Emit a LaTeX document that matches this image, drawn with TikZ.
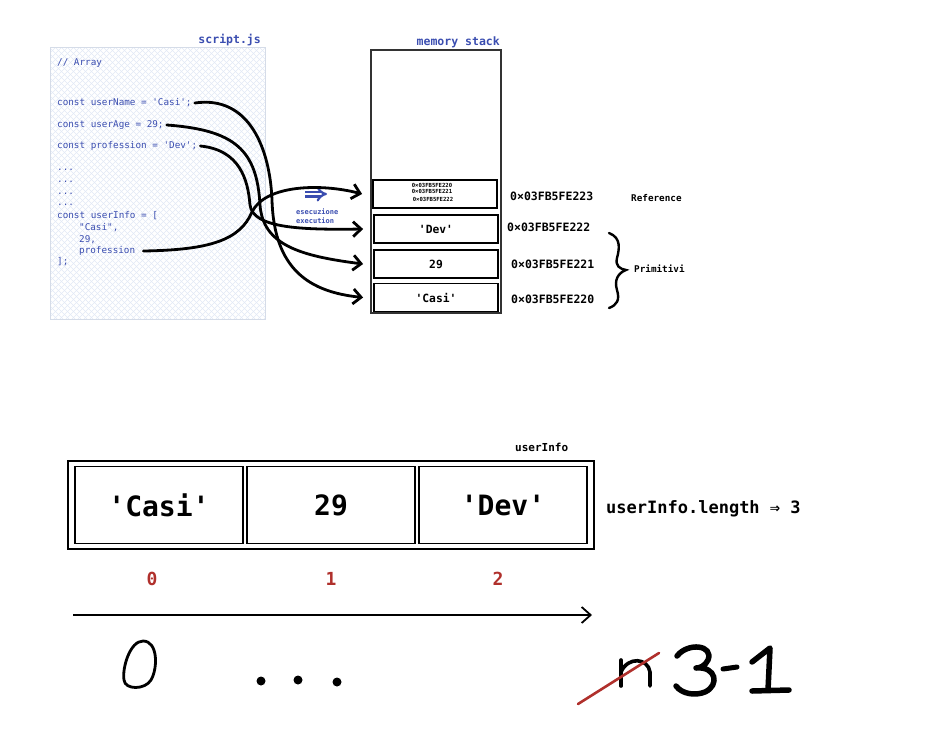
\documentclass[tikz,border=0pt]{standalone}
\usepackage{fontspec}
\setmonofont{DejaVu Sans Mono}
\usetikzlibrary{arrows.meta}
\definecolor{codeblue}{HTML}{3A4DB0}
\definecolor{idxred}{HTML}{B0302C}
\definecolor{hatch}{HTML}{E2E9F6}
\definecolor{panelborder}{HTML}{D5DCE8}
\tikzset{
  codeline/.style={anchor=west,inner sep=0pt,font=\ttfamily\fontsize{9.3}{11}\selectfont,text=codeblue},
  titlelbl/.style={anchor=east,inner sep=0pt,font=\ttfamily\bfseries\fontsize{11.5}{13}\selectfont,text=codeblue},
  membox/.style={draw,line width=1.8pt,minimum width=124,minimum height=28,inner sep=0pt,font=\ttfamily\bfseries\fontsize{11.3}{13}\selectfont},
  addr/.style={anchor=west,inner sep=0pt,font=\ttfamily\bfseries\fontsize{11.5}{13}\selectfont},
  small/.style={anchor=west,inner sep=0pt,font=\ttfamily\bfseries\fontsize{9.3}{11}\selectfont},
  arrbox/.style={draw,line width=1.8pt,minimum width=168,minimum height=77,inner sep=0pt,font=\ttfamily\bfseries\fontsize{28}{32}\selectfont},
  idx/.style={inner sep=0pt,font=\ttfamily\bfseries\fontsize{18}{20}\selectfont,text=idxred},
  handarrow/.style={line width=2.8pt,line cap=round,-{Straight Barb[length=8pt,width=15pt,line width=2.8pt]}},
  hand/.style={line width=3.2pt,line cap=round,line join=round},
}
\begin{document}
\begin{tikzpicture}[x=1pt,y=-1pt]
\useasboundingbox (0,0) rectangle (925,752);
% script panel
\begin{scope}
\clip (50,48) rectangle (265,319);
\fill[white] (50,48) rectangle (265,319);
\foreach \i in {-300,-294,...,300}{
  \draw[hatch,line width=0.45pt] (50+\i,48) -- ++(280,280);
  \draw[hatch,line width=0.45pt] (265-\i,48) -- ++(-280,280);
}
\end{scope}
\draw[panelborder,line width=1pt] (50,48) rectangle (265,319);
\node[titlelbl] (scriptlbl) at (261,40) {script.js};
\node[codeline] (c0) at (57,63) {// Array};
\node[codeline] (cname) at (57,103) {const userName = 'Casi';};
\node[codeline] (cage) at (57,125) {const userAge = 29;};
\node[codeline] (cprof) at (57,146) {const profession = 'Dev';};
\node[codeline] (d1) at (57,170) {...};
\node[codeline] (d2) at (57,182) {...};
\node[codeline] (d3) at (57,194) {...};
\node[codeline] (d4) at (57,205) {...};
\node[codeline] (cinfo) at (57,216) {const userInfo = [};
\node[codeline] (ci1) at (79,228) {"Casi",};
\node[codeline] (ci2) at (79,240) {29,};
\node[codeline] (ci3) at (79,251) {profession};
\node[codeline] (ci4) at (57,262) {];};
% memory stack
\node[titlelbl] (memlbl) at (500,42) {memory stack};
\draw[line width=1.1pt,black!80] (371,50) rectangle (501,313);
\node[membox] (mref) at (435,194) {};
\node[inner sep=0pt,font=\ttfamily\bfseries\fontsize{5.6}{6}\selectfont] (r0) at (432,185.5) {0×03FB5FE220};
\node[inner sep=0pt,font=\ttfamily\bfseries\fontsize{5.6}{6}\selectfont] (r1) at (432,191) {0×03FB5FE221};
\node[inner sep=0pt,font=\ttfamily\bfseries\fontsize{5.6}{6}\selectfont] (r2) at (433,199) {0×03FB5FE222};
\node[membox] (mdev) at (436,229) {'Dev'};
\node[membox] (mage) at (436,264) {29};
\node[membox] (mcasi) at (436,297.5) {'Casi'};
\node[addr] (a3) at (510,196) {0×03FB5FE223};
\node[addr] (a2) at (507,227) {0×03FB5FE222};
\node[addr] (a1) at (511,264) {0×03FB5FE221};
\node[addr] (a0) at (511,299) {0×03FB5FE220};
\node[small] (refl) at (631,198) {Reference};
\node[small] (priml) at (634,269) {Primitivi};
\draw[line width=2.4pt,line cap=round] (609,233) .. controls (622,238) and (619,250) .. (617,258)
  .. controls (615,266) and (620,269) .. (626,270) .. controls (618,273) and (614,280) .. (617,290)
  .. controls (620,300) and (617,305) .. (609,308);
% execution arrow
\coordinate (exs) at (305,194);
\coordinate (exe) at (327,194);
\draw[codeblue,double,double distance=2.6pt,line width=2.2pt,-{Implies[length=5pt]}] (exs) -- (exe);
\node[anchor=west,inner sep=0pt,font=\ttfamily\bfseries\fontsize{7}{8}\selectfont,text=codeblue] (ex1) at (296,212) {esecuzione};
\node[anchor=west,inner sep=0pt,font=\ttfamily\bfseries\fontsize{7}{8}\selectfont,text=codeblue] (ex2) at (296,221) {execution};
% arrows
\draw[handarrow] ([xshift=3pt]cname.east) .. controls (250,95) and (270,150) .. (272,200)
   .. controls (274,270) and (310,292) .. ([xshift=-10pt]mcasi.west);
\draw[handarrow] ([xshift=3pt]cage.east) .. controls (235,130) and (257,150) .. (260,205)
   .. controls (263,245) and (300,256) .. ([xshift=-10pt]mage.west);
\draw[handarrow] ([xshift=3pt]cprof.east) .. controls (240,150) and (248,180) .. (250,205)
   .. controls (253,228) and (300,230) .. ([xshift=-10pt]mdev.west);
\draw[handarrow] ([xshift=8pt]ci3.east) .. controls (210,250) and (240,240) .. (252,212)
   .. controls (265,185) and (320,183) .. ([xshift=-10pt]mref.west);
% bottom array
\node[anchor=west,inner sep=0pt,font=\ttfamily\bfseries\fontsize{11}{12}\selectfont] (uilbl) at (515,447) {userInfo};
\draw[line width=1.8pt] (68,461) rectangle (594,549);
\node[arrbox] (b0) at (159,505) {'Casi'};
\node[arrbox] (b1) at (331,505) {29};
\node[arrbox] (b2) at (503,505) {'Dev'};
\node[anchor=west,inner sep=0pt,font=\ttfamily\bfseries\fontsize{17}{19}\selectfont] (len) at (606,509) {userInfo.length ⇒ 3};
\node[idx] (i0) at (152,579) {0};
\node[idx] (i1) at (331,579) {1};
\node[idx] (i2) at (498,579) {2};
\coordinate (axs) at (73,615);
\coordinate (axe) at (592,615);
\draw[line width=1.8pt,-{Straight Barb[length=9pt,width=16pt,line width=1.8pt]}] (axs) -- (axe);
% handwriting
\draw[hand,line width=2.8pt] (143,641) .. controls (130,641) and (122,668) .. (124,680)
  .. controls (125,690) and (145,690) .. (151,680) .. controls (158,668) and (158,641) .. (143,641);
\fill (261,681) circle (4.5);
\fill (298,680) circle (4.5);
\fill (337,682) circle (4.5);
\draw[hand,line width=3.6pt] (621,660) -- (621,686);
\draw[hand,line width=3.6pt] (621,672) .. controls (628,656) and (648,658) .. (650,672) -- (650,686);
\draw[idxred,line width=2.6pt,line cap=round] (578,704) -- (659,653);
\draw[hand,line width=5.5pt] (677,656) .. controls (688,642) and (714,645) .. (708,660)
  .. controls (705,666) and (700,668) .. (696,668) .. controls (716,666) and (720,685) .. (705,692)
  .. controls (695,696) and (682,694) .. (676,686);
\draw[hand,line width=5pt] (723,669) -- (737,667);
\draw[hand,line width=5.5pt] (752,662) -- (770,648) -- (768,690);
\draw[hand,line width=5.5pt] (752,691) -- (789,690);
\end{tikzpicture}
\end{document}
